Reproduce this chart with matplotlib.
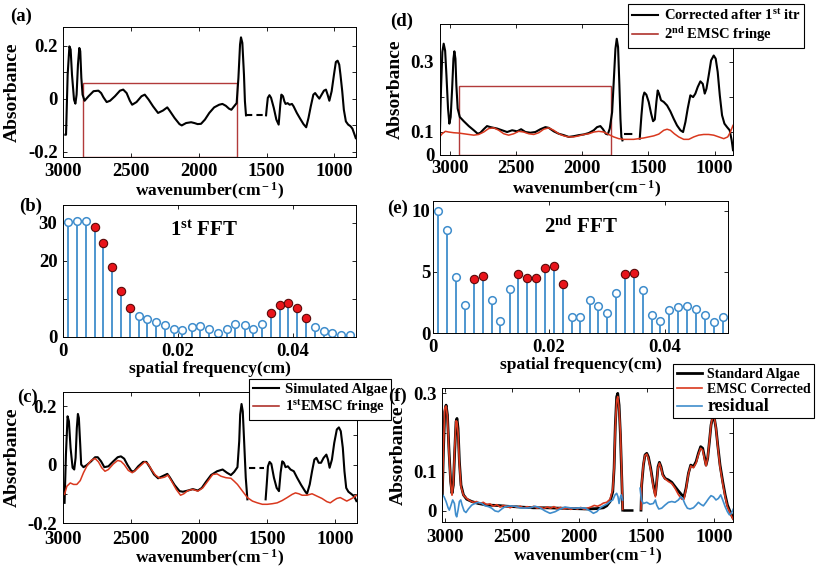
import numpy as np
import matplotlib
matplotlib.use("Agg")
import matplotlib.pyplot as plt
from matplotlib.patches import Rectangle

plt.rcParams["font.family"] = ["Liberation Serif", "DejaVu Serif"]
plt.rcParams["font.weight"] = "bold"
plt.rcParams["axes.unicode_minus"] = False
plt.rcParams["mathtext.fontset"] = "custom"
plt.rcParams["mathtext.rm"] = "Liberation Serif:bold"
plt.rcParams["mathtext.it"] = "Liberation Serif:bold"
plt.rcParams["mathtext.bf"] = "Liberation Serif:bold"

nan = np.nan
RED = "#d9381e"
BLUE = "#3f8dcc"
BOX = "#b23a3a"

# (a) simulated algae spectrum
WN_A = [2985, 2980, 2968, 2955, 2946, 2936, 2921, 2911, 2902, 2892, 2882, 2875, 2867, 2858, 2843, 2814,
        2777, 2741, 2721, 2704, 2680, 2655, 2619, 2582, 2558, 2533, 2509, 2492, 2460, 2423, 2399, 2370,
        2338, 2301, 2265, 2233, 2216, 2179, 2143, 2126, 2094, 2057, 2033, 2009, 1984, 1955, 1923, 1887,
        1850, 1826, 1801, 1777, 1760, 1740, 1721, 1708, 1696, 1689, 1679, 1667, 1660, 1652, nan,
        1504, 1499, 1491, 1479, 1467, 1447, 1428, 1411, 1399, 1391, 1379, 1369, 1360, 1345, 1330, 1313,
        1301, 1277, 1252, 1228, 1208, 1191, 1174, 1155, 1142, 1125, 1111, 1094, 1077, 1062, 1050, 1037,
        1020, 1003, 989, 976, 964, 955, 942, 930, 915, 898, 881, 867, 855, 842]
ABS_A = [-0.136, -0.136, 0.090, 0.197, 0.185, 0.090, -0.004, -0.019, 0.015, 0.128, 0.191, 0.179, 0.078,
         0.015, -0.008, 0.009, 0.028, 0.030, 0.021, 0.005, -0.013, -0.008, 0.009, 0.030, 0.034, 0.021,
         -0.008, -0.023, -0.013, 0.009, 0.015, -0.004, -0.029, -0.054, -0.045, -0.033, -0.045, -0.073,
         -0.096, -0.101, -0.092, -0.089, -0.092, -0.096, -0.095, -0.079, -0.054, -0.033, -0.023, -0.020,
         -0.027, -0.038, -0.042, -0.029, -0.017, 0.078, 0.204, 0.231, 0.210, 0.090, -0.010, -0.063, nan,
         -0.063, -0.035, 0.003, 0.013, 0.003, -0.035, -0.079, -0.098, -0.023, 0.015, 0.009, -0.010,
         -0.020, -0.017, -0.023, -0.020, -0.029, -0.054, -0.076, -0.096, -0.108, -0.073, -0.029, 0.015,
         0.021, 0.009, 0.000, 0.015, 0.030, 0.034, 0.015, -0.008, 0.028, 0.090, 0.138, 0.143, 0.128,
         0.090, 0.028, -0.042, -0.086, -0.098, -0.104, -0.113, -0.130, -0.149]
GAP_A_WN = [1652, 1504]
GAP_A_ABS = [-0.063, -0.063]
BOX_A = (2858, 1716, 0.059)  # left wn, right wn, top absorbance

# (b) first FFT
FREQ = [0.0009, 0.0024, 0.0040, 0.0055, 0.0070, 0.0086, 0.0101, 0.0116, 0.0132, 0.0147, 0.0162,
        0.0178, 0.0193, 0.0208, 0.0224, 0.0239, 0.0254, 0.0270, 0.0285, 0.0300, 0.0316, 0.0331,
        0.0346, 0.0362, 0.0377, 0.0392, 0.0408, 0.0423, 0.0438, 0.0454, 0.0469, 0.0484, 0.0500]
AMP_B = [30.1, 30.4, 30.4, 28.8, 24.6, 18.4, 12.2, 7.7, 5.5, 4.6, 4.0, 3.1, 2.1, 1.9, 2.6, 2.8, 2.2,
         1.1, 2.2, 3.3, 3.1, 2.2, 3.4, 6.3, 8.5, 9.0, 7.5, 5.0, 2.6, 1.5, 1.1, 0.4, 0.4]
PICK_B = [3, 4, 5, 6, 7, 23, 24, 25, 26, 27]

# (c) simulated algae + 1st EMSC fringe
WN_C = [2986, 2976, 2964, 2954, 2942, 2927, 2915, 2905, 2896, 2888, 2881, 2871, 2864, 2847, 2823, 2791,
        2762, 2742, 2718, 2694, 2664, 2628, 2596, 2572, 2548, 2523, 2494, 2475, 2445, 2409, 2385, 2360,
        2329, 2299, 2263, 2231, 2214, 2178, 2141, 2117, 2080, 2044, 2007, 1978, 1947, 1910, 1866, 1825,
        1793, 1764, 1740, 1716, 1703, 1696, 1686, 1677, 1667, 1655, 1643, nan,
        1509, 1501, 1492, 1480, 1467, 1448, 1428, 1411, 1399, 1387, 1375, 1363, 1346, 1326, 1302, 1278,
        1248, 1217, 1205, 1185, 1168, 1151, 1136, 1119, 1102, 1083, 1063, 1051, 1039, 1022, 1005, 986,
        971, 957, 942, 930, 917, 901, 876, 857, 842]
ABS_C = [-0.131, 0.034, 0.165, 0.148, 0.057, -0.011, -0.017, 0.023, 0.125, 0.173, 0.159, 0.068, 0.000,
         -0.009, -0.002, 0.011, 0.025, 0.025, 0.011, -0.009, -0.006, 0.011, 0.025, 0.028, 0.020, -0.002,
         -0.023, -0.023, -0.006, 0.009, 0.009, -0.009, -0.034, -0.047, -0.039, -0.032, -0.043, -0.070,
         -0.091, -0.093, -0.089, -0.084, -0.089, -0.080, -0.059, -0.036, -0.023, -0.017, -0.028, -0.036,
         -0.025, -0.009, 0.080, 0.171, 0.207, 0.182, 0.080, -0.045, -0.119, nan,
         -0.119, -0.068, -0.006, 0.009, 0.002, -0.045, -0.080, -0.091, -0.028, 0.011, 0.006, -0.009,
         -0.006, -0.017, -0.023, -0.045, -0.070, -0.093, -0.100, -0.068, -0.023, 0.017, 0.023, 0.006,
         0.006, 0.023, 0.034, 0.017, -0.011, 0.017, 0.074, 0.120, 0.127, 0.114, 0.057, -0.023, -0.080,
         -0.093, -0.102, -0.110, -0.125]
GAP_C_WN = [1630, 1521]
GAP_C_ABS = [-0.011, -0.011]
FRINGE1_WN = [2986, 2969, 2944, 2920, 2896, 2871, 2847, 2823, 2791, 2762, 2737, 2713, 2689, 2664, 2628,
              2596, 2572, 2548, 2518, 2489, 2465, 2433, 2397, 2372, 2348, 2319, 2287, 2251, 2226, 2202,
              2166, 2134, 2110, 2080, 2044, 2007, 1971, 1934, 1898, 1866, 1837, 1801, 1764, 1740, 1716,
              1679, 1643, 1606, 1570, 1533, 1497, 1460, 1424, 1387, 1351, 1314, 1290, 1265, 1241, 1205,
              1168, 1132, 1095, 1059, 1034, 1010, 986, 961, 937, 913, 888, 864, 840]
FRINGE1 = [-0.102, -0.074, -0.063, -0.068, -0.068, -0.055, -0.028, -0.006, 0.014, 0.021, 0.009, -0.011,
           -0.023, -0.017, 0.002, 0.014, 0.011, 0.000, -0.020, -0.028, -0.020, -0.006, 0.009, 0.002,
           -0.017, -0.036, -0.047, -0.043, -0.036, -0.055, -0.085, -0.105, -0.100, -0.089, -0.085,
           -0.091, -0.080, -0.057, -0.034, -0.032, -0.040, -0.045, -0.047, -0.057, -0.068, -0.091,
           -0.113, -0.125, -0.131, -0.136, -0.136, -0.134, -0.131, -0.123, -0.113, -0.102, -0.097,
           -0.100, -0.105, -0.105, -0.100, -0.108, -0.116, -0.127, -0.131, -0.123, -0.116, -0.113,
           -0.119, -0.125, -0.119, -0.113, -0.105]

# (d) corrected after 1st iteration + 2nd EMSC fringe
WN_D = [3080, 3070, 3060, 3050, 3039, 3029, 3017, 3007, 2997, 2986, 2976, 2969, 2961, 2954, 2944, 2928,
        2898, 2860, 2822, 2792, 2772, 2747, 2722, 2696, 2671, 2646, 2608, 2570, 2532, 2494, 2464, 2431,
        2394, 2356, 2318, 2280, 2255, 2217, 2179, 2141, 2103, 2066, 2028, 1990, 1952, 1914, 1889, 1864,
        1844, 1823, 1808, 1793, 1775, 1763, 1750, 1740, 1730, 1720, 1712, 1705, 1697, nan,
        1566, 1553, 1541, 1531, 1516, 1498, 1480, 1465, 1452, 1440, 1430, 1420, 1405, 1384, 1359, 1334,
        1309, 1284, 1258, 1238, 1220, 1203, 1183, 1162, 1145, 1127, 1107, 1089, 1074, 1061, 1044, 1026,
        1006, 991, 976, 960, 943, 925, 905, 885, 870, 860]
ABS_D = [0.075, 0.223, 0.328, 0.352, 0.332, 0.261, 0.166, 0.123, 0.142, 0.223, 0.309, 0.330, 0.309,
         0.233, 0.166, 0.142, 0.130, 0.116, 0.104, 0.094, 0.097, 0.107, 0.116, 0.113, 0.111, 0.109,
         0.104, 0.099, 0.104, 0.101, 0.107, 0.099, 0.097, 0.099, 0.107, 0.113, 0.111, 0.101, 0.094,
         0.090, 0.085, 0.087, 0.090, 0.092, 0.096, 0.104, 0.113, 0.116, 0.107, 0.094, 0.092, 0.109,
         0.156, 0.242, 0.337, 0.366, 0.342, 0.233, 0.137, 0.085, 0.075, nan,
         0.080, 0.147, 0.199, 0.212, 0.206, 0.185, 0.152, 0.130, 0.135, 0.185, 0.218, 0.209, 0.190,
         0.185, 0.175, 0.158, 0.137, 0.118, 0.104, 0.099, 0.128, 0.166, 0.204, 0.199, 0.209, 0.228,
         0.244, 0.237, 0.209, 0.223, 0.261, 0.304, 0.318, 0.309, 0.271, 0.204, 0.147, 0.123, 0.113,
         0.104, 0.075, 0.047]
GAP_D_WN = [1687, 1599]
GAP_D_ABS = [0.094, 0.094]
FRINGE2_WN = [3080, 3062, 3037, 3012, 2974, 2936, 2898, 2860, 2822, 2785, 2747, 2709, 2671, 2633, 2595,
              2558, 2520, 2482, 2444, 2406, 2368, 2330, 2293, 2255, 2217, 2179, 2141, 2103, 2066, 2028,
              1990, 1952, 1914, 1876, 1838, 1801, 1763, 1725, 1687, 1649, 1611, 1574, 1536, 1498, 1460,
              1422, 1384, 1359, 1334, 1304, 1271, 1233, 1195, 1157, 1120, 1082, 1044, 1006, 968, 930,
              900, 880, 860]
FRINGE2 = [0.085, 0.094, 0.101, 0.099, 0.097, 0.096, 0.094, 0.092, 0.090, 0.092, 0.099, 0.109, 0.111,
           0.104, 0.094, 0.090, 0.094, 0.101, 0.099, 0.094, 0.092, 0.097, 0.107, 0.111, 0.104, 0.094,
           0.088, 0.085, 0.085, 0.088, 0.092, 0.094, 0.099, 0.101, 0.099, 0.092, 0.085, 0.080, 0.078,
           0.078, 0.078, 0.080, 0.082, 0.085, 0.088, 0.093, 0.104, 0.107, 0.104, 0.094, 0.085, 0.078,
           0.078, 0.085, 0.090, 0.092, 0.092, 0.090, 0.085, 0.080, 0.085, 0.099, 0.118]
BOX_D = (2931, 1783, 0.231)

# (e) second FFT
AMP_E = [9.95, 8.4, 4.6, 2.3, 4.4, 4.7, 2.7, 1.0, 3.6, 4.85, 4.5, 4.5, 5.3, 5.5, 4.0, 1.3, 1.3, 2.7,
         2.2, 1.6, 3.3, 4.85, 4.9, 3.5, 1.5, 1.0, 1.9, 2.1, 2.2, 2.0, 1.45, 0.9, 1.3]
PICK_E = [4, 5, 9, 10, 11, 12, 13, 14, 21, 22]

# (f) standard algae, EMSC corrected, residual
WN_F = [3020, 3012, 3002, 2992, 2982, 2970, 2958, 2948, 2938, 2928, 2918, 2911, 2903, 2893, 2881, 2863,
        2839, 2801, 2752, 2690, 2615, 2541, 2442, 2343, 2243, 2144, 2045, 1946, 1871, 1822, 1797, 1772,
        1752, 1742, 1733, 1723, 1715, 1705, 1695, 1685, 1678, nan,
        1542, 1537, 1524, 1512, 1499, 1487, 1470, 1450, 1435, 1425, 1415, 1405, 1393, 1380, 1363, 1338,
        1313, 1289, 1264, 1239, 1222, 1207, 1189, 1172, 1152, 1132, 1115, 1098, 1083, 1070, 1058, 1046,
        1033, 1021, 1008, 996, 984, 971, 954, 934, 916, 899, 879, 862, 855]
STD_F = [0.041, 0.151, 0.253, 0.270, 0.245, 0.151, 0.075, 0.045, 0.066, 0.151, 0.228, 0.236, 0.211,
         0.126, 0.066, 0.041, 0.030, 0.024, 0.019, 0.015, 0.014, 0.012, 0.010, 0.008, 0.008, 0.007,
         0.006, 0.005, 0.006, 0.008, 0.013, 0.024, 0.049, 0.109, 0.219, 0.291, 0.300, 0.270, 0.194,
         0.083, 0.002, nan,
         0.002, 0.066, 0.117, 0.143, 0.147, 0.138, 0.109, 0.066, 0.041, 0.075, 0.113, 0.124, 0.113,
         0.093, 0.083, 0.079, 0.073, 0.062, 0.051, 0.041, 0.036, 0.058, 0.096, 0.117, 0.113, 0.126,
         0.147, 0.164, 0.160, 0.138, 0.117, 0.134, 0.177, 0.219, 0.240, 0.236, 0.211, 0.168, 0.117,
         0.075, 0.041, 0.015, -0.002, -0.015, -0.019]
WN_FC = [3020, 3012, 3002, 2992, 2982, 2970, 2958, 2948, 2938, 2928, 2918, 2911, 2903, 2893, 2881, 2863,
         2839, 2815, 2790, 2765, 2740, 2715, 2690, 2665, 2640, 2615, 2590, 2565, 2540, 2515, 2490, 2465,
         2440, 2415, 2390, 2365, 2340, 2315, 2290, 2265, 2240, 2215, 2190, 2165, 2140, 2115, 2090, 2065,
         2040, 2015, 1990, 1965, 1940, 1915, 1890, 1865, 1840, 1822, 1797, 1772, 1752, 1742, 1733, 1723,
         1715, 1705, 1695, 1685, 1678, nan,
         1542, 1537, 1524, 1512, 1499, 1487, 1470, 1450, 1435, 1425, 1415, 1405, 1393, 1380, 1363, 1338,
         1313, 1289, 1264, 1239, 1222, 1207, 1189, 1172, 1152, 1132, 1115, 1098, 1083, 1070, 1058, 1046,
         1033, 1021, 1008, 996, 984, 971, 954, 934, 916, 899, 879, 862, 855]
CORR_F = [0.045, 0.155, 0.262, 0.268, 0.240, 0.145, 0.070, 0.040, 0.070, 0.160, 0.230, 0.228, 0.200,
          0.120, 0.062, 0.040, 0.032, 0.026, 0.022, 0.024, 0.019, 0.022, 0.016, 0.018, 0.012, 0.016,
          0.010, 0.014, 0.012, 0.008, 0.013, 0.009, 0.012, 0.007, 0.011, 0.008, 0.012, 0.007, 0.010,
          0.006, 0.010, 0.007, 0.011, 0.006, 0.009, 0.005, 0.008, 0.004, 0.008, 0.005, 0.009, 0.004,
          0.007, 0.010, 0.014, 0.012, 0.016, 0.020, 0.022, 0.030, 0.055, 0.110, 0.215, 0.282, 0.292,
          0.262, 0.200, 0.090, 0.004, nan,
          0.004, 0.070, 0.120, 0.142, 0.145, 0.134, 0.105, 0.060, 0.036, 0.072, 0.110, 0.122, 0.110,
          0.090, 0.082, 0.075, 0.070, 0.058, 0.042, 0.030, 0.030, 0.055, 0.095, 0.115, 0.110, 0.122,
          0.144, 0.160, 0.155, 0.133, 0.115, 0.135, 0.178, 0.220, 0.242, 0.238, 0.210, 0.165, 0.112,
          0.070, 0.036, 0.010, -0.005, -0.018, -0.022]
WN_R = [3020, 3007, 2992, 2977, 2968, 2955, 2943, 2930, 2920, 2913, 2903, 2893, 2883, 2873, 2858, 2844,
        2826, 2801, 2777, 2752, 2727, 2702, 2677, 2653, 2628, 2603, 2578, 2553, 2516, 2479, 2442, 2405,
        2367, 2330, 2293, 2256, 2219, 2181, 2144, 2107, 2070, 2033, 1995, 1958, 1921, 1896, 1871, 1847,
        1822, 1797, 1772, 1752, 1735, 1723, 1713, 1705, 1695, 1688, 1680, nan,
        1549, 1539, 1524, 1499, 1475, 1450, 1435, 1425, 1410, 1388, 1363, 1338, 1313, 1289, 1264, 1246,
        1232, 1214, 1197, 1177, 1152, 1132, 1115, 1098, 1078, 1058, 1038, 1021, 1003, 984, 966, 949,
        934, 916, 899, 884, 870, 855]
RESID = [0.041, 0.036, 0.024, 0.008, 0.002, 0.015, 0.028, 0.019, -0.010, -0.015, 0.002, 0.024, 0.028,
         0.015, 0.000, -0.004, 0.005, 0.015, 0.019, 0.022, 0.019, 0.013, 0.011, 0.007, 0.000, -0.002,
         0.005, 0.011, 0.013, 0.012, 0.008, 0.007, 0.008, 0.012, 0.008, 0.000, -0.006, -0.002, 0.005,
         0.010, 0.008, 0.007, 0.008, 0.007, 0.000, -0.006, -0.002, 0.007, 0.013, 0.017, 0.024, 0.028,
         0.041, 0.045, 0.036, 0.019, 0.036, 0.041, 0.028, nan,
         0.058, 0.028, 0.019, 0.022, 0.017, 0.019, 0.028, 0.015, 0.005, 0.007, 0.015, 0.022, 0.024,
         0.022, 0.028, 0.036, 0.032, 0.017, 0.007, 0.005, 0.008, 0.015, 0.022, 0.017, 0.013, 0.022,
         0.032, 0.039, 0.036, 0.028, 0.032, 0.041, 0.028, 0.011, -0.002, -0.010, -0.006, 0.005]
GAP_F_WN = [1678, 1542]
GAP_F_ABS = [0.002, 0.002]

WN_TICKS = [3000, 2500, 2000, 1500, 1000]
TICK_FS = 13.5
LAB_FS = 12.5

fig = plt.figure(figsize=(8.17, 5.68), dpi=100)


def style(ax):
    ax.tick_params(direction="in", top=True, right=True, length=3, width=0.6,
                   labelsize=TICK_FS, pad=4)
    for s in ax.spines.values():
        s.set_linewidth(0.7)
    for lab in ax.get_xticklabels() + ax.get_yticklabels():
        lab.set_fontweight("bold")


def spectrum_axes(rect, xlim, ylim, yticks, ylabels, xpad=4, lpad=1):
    ax = fig.add_axes(rect)
    ax.set_xlim(*xlim)
    ax.set_ylim(*ylim)
    ax.set_xticks(WN_TICKS)
    ax.set_xticklabels([str(t) for t in WN_TICKS])
    ax.set_yticks(yticks)
    ax.set_yticklabels(ylabels)
    ax.set_xlabel(r"wavenumber(cm$^{\rm -1}$)", fontsize=LAB_FS, fontweight="bold", labelpad=lpad)
    ax.set_ylabel("Absorbance", fontsize=14, fontweight="bold", labelpad=5)
    style(ax)
    ax.tick_params(axis="x", pad=xpad)
    return ax


def add_legend(ax, handles, labels, anchor, fs=10.5):
    leg = ax.legend(handles, labels, loc="upper left", bbox_to_anchor=anchor,
                    bbox_transform=fig.transFigure, borderaxespad=0, fancybox=False, framealpha=1,
                    edgecolor="black", borderpad=0.25, handlelength=1.8, handletextpad=0.4,
                    labelspacing=0.15, prop={"family": "Liberation Serif", "weight": "bold", "size": fs})
    leg.get_frame().set_linewidth(0.8)
    return leg


# (a)
ax_a = spectrum_axes([0.0775, 0.7236, 0.3583, 0.2289], (2985, 840), (-0.22, 0.27),
                     [-0.2, -0.1, 0, 0.1, 0.2], ["-0.2", "", "0", "", "0.2"])
ax_a.plot(WN_A, ABS_A, color="black", lw=1.5)
ax_a.plot(GAP_A_WN, GAP_A_ABS, color="black", lw=1.5, dashes=(3, 2))
ax_a.add_patch(Rectangle((BOX_A[0], -0.22), BOX_A[1] - BOX_A[0], BOX_A[2] + 0.22,
                         fill=False, edgecolor=BOX, lw=1.0))

# (b)
ax_b = fig.add_axes([0.0771, 0.4067, 0.3586, 0.2324])
ax_b.set_xlim(0, 0.051)
ax_b.set_ylim(0, 34.7)
ax_b.vlines(FREQ, 0, AMP_B, color=BLUE, lw=1.3)
open_b = [i for i in range(len(FREQ)) if i not in PICK_B]
ax_b.plot([FREQ[i] for i in open_b], [AMP_B[i] for i in open_b], "o", ms=5.5, mfc="white",
          mec=BLUE, mew=1.1)
ax_b.plot([FREQ[i] for i in PICK_B], [AMP_B[i] for i in PICK_B], "o", ms=6, mfc="#e8141b",
          mec="#5a0a0a", mew=0.8)
ax_b.set_xticks([0, 0.02, 0.04])
ax_b.set_xticklabels(["0", "0.02", "0.04"])
ax_b.set_yticks([0, 10, 20, 30])
ax_b.set_yticklabels(["0", "", "20", "30"])
ax_b.set_xlabel("spatial frequency(cm)", fontsize=LAB_FS, fontweight="bold", labelpad=1)
ax_b.text(0.48, 0.80, r"1$^{\rm st}$ FFT", transform=ax_b.transAxes, ha="center", va="center",
          fontsize=15, fontweight="bold")
style(ax_b)

# (c)
ax_c = spectrum_axes([0.0767, 0.0792, 0.3599, 0.2306], (2985, 840), (-0.2, 0.248),
                     [-0.2, -0.1, 0, 0.1, 0.2], ["-0.2", "", "0", "", "0.2"], xpad=5.5, lpad=0)
h_c1, = ax_c.plot(WN_C, ABS_C, color="black", lw=1.5)
ax_c.plot(GAP_C_WN, GAP_C_ABS, color="black", lw=1.5, dashes=(3, 2))
h_c2, = ax_c.plot(FRINGE1_WN, FRINGE1, color=RED, lw=1.1)
lc = add_legend(ax_c, [h_c1, h_c2], ["Simulated Algae", r"1$^{\rm st}$EMSC fringe"], (0.305, 0.333))
lc.legend_handles[1].set_color("#a8201a")

# (d)
ax_d = spectrum_axes([0.5382, 0.7276, 0.359, 0.2306], (3080, 860), (0.034, 0.409),
                     [0.034, 0.1, 0.2, 0.3], ["0", "0.1", "", "0.3"])
h_d1, = ax_d.plot(WN_D, ABS_D, color="black", lw=1.5)
ax_d.plot(GAP_D_WN, GAP_D_ABS, color="black", lw=1.5, dashes=(4, 5))
h_d2, = ax_d.plot(FRINGE2_WN, FRINGE2, color=RED, lw=1.1)
ax_d.add_patch(Rectangle((BOX_D[0], 0.034), BOX_D[1] - BOX_D[0], BOX_D[2] - 0.034,
                         fill=False, edgecolor=BOX, lw=1.0))
ld = add_legend(ax_d, [h_d1, h_d2], [r"Corrected after 1$^{\rm st}$ itr", r"2$^{\rm nd}$ EMSC fringe"],
                (0.769, 0.993))
ld.legend_handles[1].set_color("#a8201a")

# (e)
ax_e = fig.add_axes([0.53, 0.4137, 0.3611, 0.2324])
ax_e.set_xlim(0, 0.0509)
ax_e.set_ylim(0, 10.8)
ax_e.vlines(FREQ, 0, AMP_E, color=BLUE, lw=1.3)
open_e = [i for i in range(len(FREQ)) if i not in PICK_E]
ax_e.plot([FREQ[i] for i in open_e], [AMP_E[i] for i in open_e], "o", ms=5.5, mfc="white",
          mec=BLUE, mew=1.1)
ax_e.plot([FREQ[i] for i in PICK_E], [AMP_E[i] for i in PICK_E], "o", ms=6, mfc="#e8141b",
          mec="#5a0a0a", mew=0.8)
ax_e.set_xticks([0, 0.02, 0.04])
ax_e.set_xticklabels(["0", "0.02", "0.04"])
ax_e.set_yticks([0, 5, 10])
ax_e.set_yticklabels(["0", "5", "10"])
ax_e.set_xlabel("spatial frequency(cm)", fontsize=LAB_FS, fontweight="bold", labelpad=1)
ax_e.text(0.5, 0.80, r"2$^{\rm nd}$ FFT", transform=ax_e.transAxes, ha="center", va="center",
          fontsize=15, fontweight="bold")
style(ax_e)
ax_e.tick_params(axis="y", pad=2)

# (f)
ax_f = spectrum_axes([0.5414, 0.0815, 0.3562, 0.2349], (3020, 855), (-0.0275, 0.313),
                     [0, 0.1, 0.2, 0.3], ["0", "0.1", "", "0.3"], xpad=5.5, lpad=0)
h_f1, = ax_f.plot(WN_F, STD_F, color="black", lw=2.0)
ax_f.plot(GAP_F_WN, GAP_F_ABS, color="black", lw=1.8, dashes=(4, 4))
h_f2, = ax_f.plot(WN_FC, CORR_F, color=RED, lw=1.2)
h_f3, = ax_f.plot(WN_R, RESID, color=BLUE, lw=1.2)
lf = add_legend(ax_f, [h_f1, h_f2, h_f3], ["Standard Algae", "EMSC Corrected", "residual"],
                (0.824, 0.359), fs=10)
lf.get_texts()[2].set_fontsize(13)

# panel letters
for lab, x, y in [("(a)", 0.026, 0.972), ("(b)", 0.037, 0.637), ("(c)", 0.034, 0.300),
                  ("(d)", 0.492, 0.962), ("(e)", 0.487, 0.634), ("(f)", 0.487, 0.302)]:
    fig.text(x, y, lab, ha="center", va="center", fontsize=13.5, fontweight="bold")

fig.savefig("out.png", dpi=100)
